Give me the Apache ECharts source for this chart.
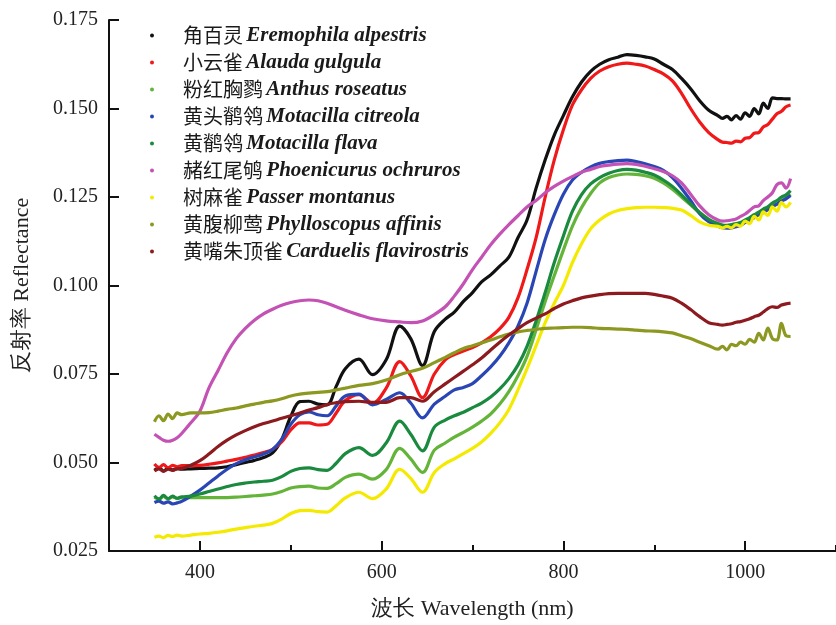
<!DOCTYPE html>
<html>
<head>
<meta charset="utf-8">
<title>Reflectance</title>
<script src="https://cdn.jsdelivr.net/npm/echarts@6/dist/echarts.min.js"></script>
<style>
    html, body { margin: 0; padding: 0; background: #fff; }
    #main { width: 836px; height: 625px; }
</style>
</head>
<body>
<div id="main"></div>
<script>
// wavelength (nm)
var wl = [350, 355, 360, 365, 370, 375, 380,
    390, 400, 410, 420, 430, 440, 450, 460, 470, 480, 490, 500, 510, 520, 530, 540, 550, 560,
    575, 590, 605, 620, 632, 645, 658,
    670, 680, 690, 700, 710, 720, 730, 740, 750, 760, 770, 780, 790, 800, 810, 820, 830, 840,
    850, 860, 870, 880, 890, 900, 910, 920, 930, 940, 950, 960,
    970, 975, 980, 985, 990, 995, 1000, 1005, 1010, 1015, 1020, 1025, 1030, 1035, 1040, 1045, 1050];

var cnNames = ['角百灵', '小云雀', '粉红胸鹨', '黄头鹡鸰', '黄鹡鸰', '赭红尾鸲', '树麻雀', '黄腹柳莺', '黄嘴朱顶雀'];
var latinNames = ['Eremophila alpestris', 'Alauda gulgula', 'Anthus roseatus', 'Motacilla citreola',
    'Motacilla flava', 'Phoenicurus ochruros', 'Passer montanus', 'Phylloscopus affinis', 'Carduelis flavirostris'];
var colors = ['#111111', '#f01818', '#64b43a', '#2a46b4', '#1a8a3e', '#c452b4', '#f4ea00', '#8c9820', '#8c1a1e'];

var eremophila = [0.0478, 0.0485, 0.0476, 0.0484, 0.0479, 0.0483, 0.0481,
    0.0482, 0.0483, 0.0484, 0.0485, 0.0488, 0.0494, 0.0500, 0.0506, 0.0514, 0.0527, 0.0565, 0.0630, 0.0672, 0.0673, 0.0665, 0.0663, 0.0715, 0.0765,
    0.0792, 0.0748, 0.0790, 0.0885, 0.0850, 0.0774, 0.0870,
    0.0905, 0.0925, 0.0955, 0.0980, 0.1010, 0.1030, 0.1055, 0.1080, 0.1135, 0.1185, 0.1275, 0.1355, 0.1425, 0.1480, 0.1533, 0.1575, 0.1605, 0.1625,
    0.1638, 0.1645, 0.1652, 0.1650, 0.1646, 0.1640, 0.1625, 0.1610, 0.1585, 0.1556, 0.1522, 0.1495,
    0.1480, 0.1472, 0.1478, 0.1468, 0.1480, 0.1470, 0.1488, 0.1478, 0.1500, 0.1485, 0.1515, 0.1500, 0.1530, 0.1528, 0.1528, 0.1527, 0.1527];

var alauda = [0.0496, 0.0486, 0.0494, 0.0485, 0.0492, 0.0488, 0.0491,
    0.0491, 0.0492, 0.0495, 0.0499, 0.0504, 0.0509, 0.0515, 0.0521, 0.0528, 0.0537, 0.0558, 0.0592, 0.0612, 0.0612, 0.0606, 0.0608, 0.0640, 0.0675,
    0.0692, 0.0667, 0.0710, 0.0785, 0.0745, 0.0683, 0.0750,
    0.0790, 0.0805, 0.0815, 0.0825, 0.0838, 0.0855, 0.0878, 0.0910, 0.0965, 0.1045, 0.1135, 0.1250, 0.1355, 0.1440, 0.1510, 0.1553, 0.1585, 0.1606,
    0.1618, 0.1625, 0.1628, 0.1625, 0.1620, 0.1610, 0.1598, 0.1578, 0.1543, 0.1500, 0.1462, 0.1432,
    0.1412, 0.1405, 0.1404, 0.1402, 0.1408, 0.1406, 0.1416, 0.1418, 0.1430, 0.1432, 0.1448, 0.1455, 0.1470, 0.1485, 0.1492, 0.1505, 0.1510];

var anthus = [0.0402, 0.0396, 0.0404, 0.0397, 0.0403, 0.0398, 0.0401,
    0.0401, 0.0401, 0.0401, 0.0401, 0.0401, 0.0402, 0.0404, 0.0406, 0.0408, 0.0411, 0.0418, 0.0428, 0.0432, 0.0433, 0.0428, 0.0427, 0.0440, 0.0458,
    0.0467, 0.0453, 0.0480, 0.0540, 0.0510, 0.0472, 0.0535,
    0.0555, 0.0572, 0.0585, 0.0600, 0.0617, 0.0637, 0.0665, 0.0700, 0.0745, 0.0800, 0.0875, 0.0955, 0.1028, 0.1100, 0.1168, 0.1220, 0.1260, 0.1290,
    0.1305, 0.1312, 0.1315, 0.1314, 0.1310, 0.1303, 0.1290, 0.1272, 0.1250, 0.1228, 0.1205, 0.1185,
    0.1172, 0.1168, 0.1167, 0.1168, 0.1172, 0.1175, 0.1182, 0.1188, 0.1195, 0.1200, 0.1210, 0.1215, 0.1225, 0.1230, 0.1240, 0.1248, 0.1258];

var citreola = [0.0387, 0.0391, 0.0385, 0.0389, 0.0383, 0.0386, 0.0390,
    0.0405, 0.0422, 0.0442, 0.0462, 0.0481, 0.0497, 0.0508, 0.0516, 0.0524, 0.0537, 0.0565, 0.0608, 0.0635, 0.0643, 0.0635, 0.0632, 0.0660, 0.0688,
    0.0693, 0.0663, 0.0678, 0.0697, 0.0668, 0.0626, 0.0665,
    0.0687, 0.0705, 0.0712, 0.0723, 0.0745, 0.0770, 0.0800, 0.0838, 0.0885, 0.0950, 0.1040, 0.1130, 0.1200, 0.1258, 0.1298, 0.1320, 0.1335, 0.1345,
    0.1350, 0.1353, 0.1354, 0.1350, 0.1344, 0.1336, 0.1325, 0.1305, 0.1275, 0.1240, 0.1203, 0.1180,
    0.1168, 0.1163, 0.1162, 0.1163, 0.1166, 0.1170, 0.1178, 0.1185, 0.1192, 0.1200, 0.1206, 0.1214, 0.1222, 0.1230, 0.1238, 0.1245, 0.1254];

var flava = [0.0406, 0.0397, 0.0407, 0.0398, 0.0405, 0.0399, 0.0403,
    0.0405, 0.0411, 0.0418, 0.0425, 0.0432, 0.0438, 0.0442, 0.0445, 0.0447, 0.0450, 0.0460, 0.0475, 0.0483, 0.0485, 0.0480, 0.0478, 0.0498, 0.0525,
    0.0542, 0.0520, 0.0555, 0.0617, 0.0580, 0.0533, 0.0600,
    0.0620, 0.0632, 0.0642, 0.0655, 0.0668, 0.0685, 0.0708, 0.0737, 0.0775, 0.0828, 0.0900, 0.0980, 0.1065, 0.1140, 0.1210, 0.1257, 0.1287, 0.1305,
    0.1317, 0.1325, 0.1328, 0.1326, 0.1320, 0.1312, 0.1298, 0.1280, 0.1256, 0.1230, 0.1206, 0.1187,
    0.1175, 0.1171, 0.1170, 0.1172, 0.1175, 0.1178, 0.1185, 0.1192, 0.1200, 0.1207, 0.1216, 0.1222, 0.1233, 0.1240, 0.1250, 0.1256, 0.1268];

var phoenicurus = [0.0580, 0.0571, 0.0563, 0.0560, 0.0563, 0.0570, 0.0582,
    0.0612, 0.0645, 0.0711, 0.0760, 0.0810, 0.0850, 0.0879, 0.0902, 0.0920, 0.0933, 0.0944, 0.0952, 0.0957, 0.0959, 0.0957, 0.0950, 0.0940, 0.0930,
    0.0917, 0.0906, 0.0900, 0.0897, 0.0895, 0.0900, 0.0918,
    0.0940, 0.0970, 0.1005, 0.1045, 0.1080, 0.1115, 0.1145, 0.1172, 0.1197, 0.1222, 0.1240, 0.1262, 0.1280, 0.1295, 0.1308, 0.1320, 0.1328, 0.1336,
    0.1340, 0.1343, 0.1344, 0.1342, 0.1337, 0.1330, 0.1322, 0.1310, 0.1290, 0.1258, 0.1225, 0.1200,
    0.1185, 0.1182, 0.1183, 0.1185, 0.1188, 0.1195, 0.1202, 0.1212, 0.1222, 0.1225, 0.1240, 0.1250, 0.1262, 0.1285, 0.1290, 0.1275, 0.1302];

var passer = [0.0289, 0.0292, 0.0288, 0.0294, 0.0291, 0.0295, 0.0292,
    0.0295, 0.0298, 0.0300, 0.0303, 0.0307, 0.0312, 0.0316, 0.0320, 0.0323, 0.0328, 0.0340, 0.0356, 0.0364, 0.0365, 0.0361, 0.0360, 0.0378, 0.0400,
    0.0416, 0.0398, 0.0425, 0.0481, 0.0455, 0.0416, 0.0472,
    0.0497, 0.0510, 0.0525, 0.0540, 0.0558, 0.0582, 0.0612, 0.0650, 0.0705, 0.0765, 0.0830, 0.0895, 0.0950, 0.1000, 0.1065, 0.1118, 0.1160, 0.1185,
    0.1202, 0.1212, 0.1217, 0.1220, 0.1221, 0.1221, 0.1220, 0.1218, 0.1213, 0.1198, 0.1180, 0.1170,
    0.1167, 0.1163, 0.1167, 0.1163, 0.1172, 0.1168, 0.1182, 0.1175, 0.1195, 0.1185, 0.1208, 0.1198, 0.1222, 0.1210, 0.1235, 0.1222, 0.1235];

var phylloscopus = [0.0615, 0.0632, 0.0618, 0.0637, 0.0624, 0.0640, 0.0635,
    0.0640, 0.0640, 0.0641, 0.0645, 0.0650, 0.0654, 0.0660, 0.0665, 0.0670, 0.0674, 0.0680, 0.0688, 0.0693, 0.0696, 0.0698, 0.0700, 0.0705, 0.0710,
    0.0718, 0.0723, 0.0733, 0.0748, 0.0757, 0.0766, 0.0782,
    0.0797, 0.0810, 0.0822, 0.0830, 0.0838, 0.0846, 0.0855, 0.0863, 0.0869, 0.0873, 0.0876, 0.0879, 0.0880, 0.0881, 0.0882, 0.0882, 0.0881, 0.0879,
    0.0878, 0.0877, 0.0876, 0.0874, 0.0872, 0.0871, 0.0869, 0.0866, 0.0858, 0.0850, 0.0840, 0.0830,
    0.0820, 0.0828, 0.0818, 0.0834, 0.0830, 0.0840, 0.0834, 0.0848, 0.0840, 0.0865, 0.0846, 0.0880, 0.0850, 0.0846, 0.0893, 0.0858, 0.0856];

var carduelis = [0.0476, 0.0482, 0.0475, 0.0481, 0.0478, 0.0482, 0.0483,
    0.0492, 0.0505, 0.0524, 0.0545, 0.0563, 0.0578, 0.0590, 0.0601, 0.0610, 0.0617, 0.0625, 0.0632, 0.0640, 0.0648, 0.0655, 0.0664, 0.0669, 0.0672,
    0.0673, 0.0670, 0.0670, 0.0683, 0.0683, 0.0673, 0.0700,
    0.0722, 0.0740, 0.0758, 0.0776, 0.0795, 0.0818, 0.0840, 0.0860, 0.0878, 0.0895, 0.0908, 0.0920, 0.0935, 0.0948, 0.0957, 0.0965, 0.0970, 0.0974,
    0.0977, 0.0978, 0.0978, 0.0978, 0.0978, 0.0975, 0.0970, 0.0964, 0.0950, 0.0932, 0.0912, 0.0895,
    0.0890, 0.0888, 0.0890, 0.0892, 0.0896, 0.0898, 0.0902, 0.0906, 0.0912, 0.0916, 0.0925, 0.0935, 0.0940, 0.0938, 0.0945, 0.0948, 0.0950];

var allValues = [eremophila, alauda, anthus, citreola, flava, phoenicurus, passer, phylloscopus, carduelis];

// labelled ticks on the x axis
var majorTicks = [400, 600, 800, 1000];

var serifFont = '"Liberation Serif", "DejaVu Serif", serif';
var cjkFont = '"Noto Sans CJK SC", sans-serif';

var chart = echarts.init(document.getElementById('main'), null, { renderer: 'canvas' });

var series = allValues.map(function(vals, i) {
    return {
        name: cnNames[i],
        type: 'line',
        xAxisIndex: 0,
        showSymbol: false,
        smooth: 0.35,
        color: colors[i],
        lineStyle: { width: 3.2, color: colors[i] },
        data: wl.map(function(w, k) { return [w, vals[k]]; })
    };
});

var option = {
    backgroundColor: '#ffffff',
    animation: false,
    grid: { left: 109, right: -5, top: 20, bottom: 71 },
    legend: {
        orient: 'vertical',
        left: 150,
        top: 25,
        padding: 0,
        itemGap: 6,
        itemWidth: 4,
        itemHeight: 4,
        icon: 'circle',
        data: cnNames,
        formatter: function(name) {
            var i = cnNames.indexOf(name);
            return '{cn|' + name + '} {la|' + latinNames[i] + '}';
        },
        textStyle: {
            rich: {
                cn: { fontFamily: cjkFont, fontSize: 20, color: '#1a1a1a', lineHeight: 21, padding: [0, 0, 0, 24] },
                la: { fontFamily: serifFont, fontSize: 21, fontStyle: 'italic', fontWeight: 'bold', color: '#1a1a1a', lineHeight: 21 }
            }
        }
    },
    xAxis: [{
        type: 'value',
        min: 300,
        max: 1100,
        name: '波长 Wavelength (nm)',
        nameLocation: 'middle',
        nameGap: 47,
        nameTextStyle: { fontFamily: serifFont, fontSize: 22, color: '#222' },
        axisLine: { lineStyle: { color: '#111', width: 2 } },
        axisTick: { inside: true, length: 10, customValues: majorTicks, lineStyle: { color: '#111', width: 2 } },
        axisLabel: {
            customValues: majorTicks,
            margin: 12,
            fontFamily: serifFont,
            fontSize: 20,
            color: '#222',
            formatter: function(v) { return String(v); }
        },
        splitLine: { show: false }
    }, {
        // short ticks every 100 nm (the long ones cover 400/600/800/1000)
        type: 'value',
        min: 300,
        max: 1100,
        interval: 100,
        position: 'bottom',
        offset: 0,
        axisLine: { show: false },
        axisTick: { show: true, inside: true, length: 6, lineStyle: { color: '#111', width: 2 } },
        axisLabel: { show: false },
        splitLine: { show: false }
    }],
    yAxis: {
        type: 'value',
        min: 0.025,
        max: 0.175,
        interval: 0.025,
        name: '反射率 Reflectance',
        nameLocation: 'middle',
        nameGap: 76,
        nameTextStyle: { fontFamily: serifFont, fontSize: 22, color: '#222' },
        axisLine: { show: true, lineStyle: { color: '#111', width: 2 } },
        axisTick: { show: true, inside: true, length: 10, lineStyle: { color: '#111', width: 2 } },
        axisLabel: {
            margin: 11,
            fontFamily: serifFont,
            fontSize: 20,
            color: '#222',
            formatter: function(v) { return v.toFixed(3); }
        },
        splitLine: { show: false }
    },
    series: series
};

chart.setOption(option);
</script>
</body>
</html>
